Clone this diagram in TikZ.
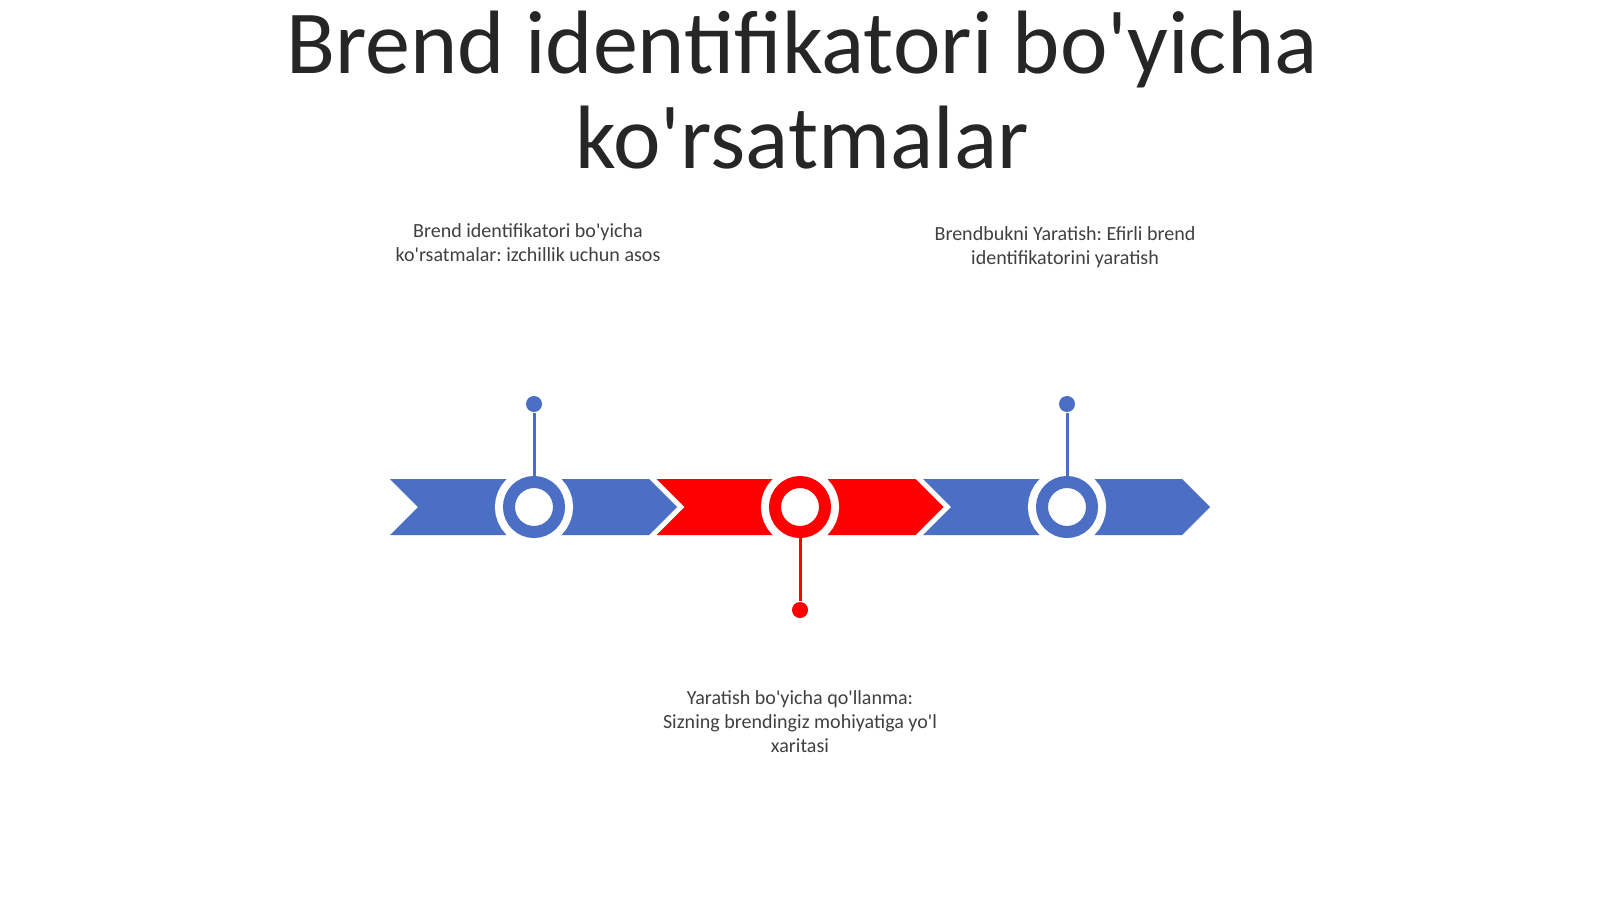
\documentclass[tikz,border=0pt]{standalone}
\usepackage{fontspec}
\setmainfont{Carlito}[Ligatures=TeXOff]
\frenchspacing
\definecolor{tlblue}{HTML}{4A6FC4}
\definecolor{tlred}{HTML}{FF0000}
\definecolor{tltext}{HTML}{404040}

\begin{document}
\begin{tikzpicture}[x=0.01cm,y=0.01cm,
	ring/.style ={circle, draw=#1, fill=white, line width=0.12cm, minimum size=0.5cm, inner sep=0pt, preaction={draw=white, line width=0.28cm}},
	dot/.style ={circle, fill=#1, minimum size=0.16cm, inner sep=0pt},
	stem/.style ={draw=#1, line width=0.03cm},
	caption/.style ={align=center, anchor=base, text=tltext, font=\fontsize{5.7}{6.8}\selectfont},
	heading/.style ={align=center, anchor=base, text=black!85, font=\fontsize{25.6}{27}\selectfont}]
		\fill[white] (0,0) rectangle (1600,899);
		\useasboundingbox (0,0) rectangle (1600,899);
		\node[heading] (title) at (802,731) {Brend identifikatori bo'yicha\\ko'rsatmalar};
		% chevrons
		\foreach \i/\col in {0/tlblue,1/tlred,2/tlblue}
			\fill[\col] ({390+266.5*\i},420) -- ++(28,-28) -- ++(-28,-28) -- ++(259,0) -- ++(28,28) -- ++(-28,28) -- cycle;
		\node[ring=tlblue] (r1) at (534,392) {};
		\node[ring=tlred] (r2) at (800,392) {};
		\node[ring=tlblue] (r3) at (1067,392) {};
		\node[dot=tlblue] (d1) at (534,495) {};
		\node[dot=tlred] (d2) at (800,289) {};
		\node[dot=tlblue] (d3) at (1067,495) {};
		\draw[stem=tlblue] (r1) -- (d1);
		\draw[stem=tlred] (r2) -- (d2);
		\draw[stem=tlblue] (r3) -- (d3);
		\node[caption] (t1) at (528,638) {Brend identifikatori bo'yicha\\ko'rsatmalar: izchillik uchun asos};
		\node[caption] (t2) at (800,147) {Yaratish bo'yicha qo'llanma:\\Sizning brendingiz mohiyatiga yo'l\\xaritasi};
		\node[caption] (t3) at (1065,635) {Brendbukni Yaratish: Efirli brend\\identifikatorini yaratish};
	\end{tikzpicture}
\end{document}
